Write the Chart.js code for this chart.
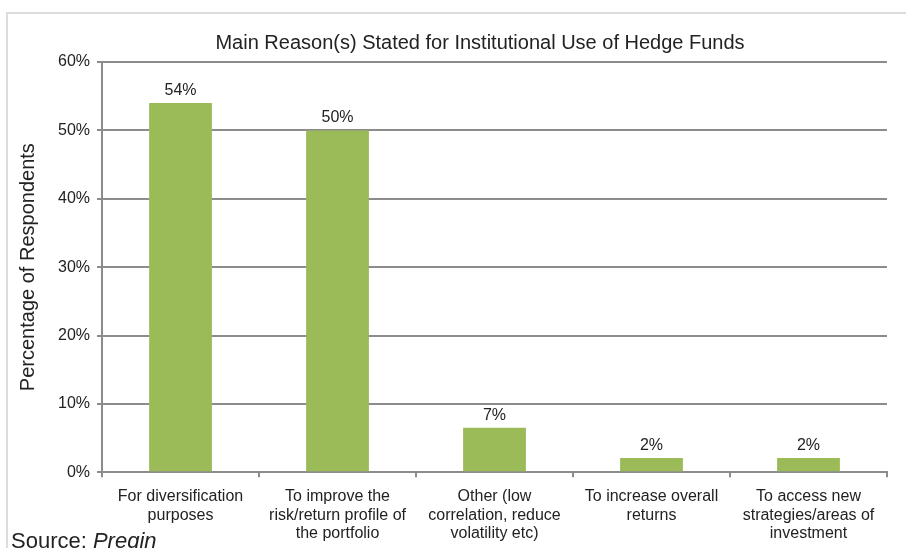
<!DOCTYPE html>
<html>
<head>
<meta charset="utf-8">
<script src="https://cdn.jsdelivr.net/npm/chart.js@4.4.0/dist/chart.umd.min.js"></script>
<style>
  html, body { margin: 0; padding: 0; background: #fff; overflow: hidden; }
  #wrap { position: relative; width: 906px; height: 548px; }
  #frame { position: absolute; left: 6px; top: 12px; width: 920px; height: 560px;
           border-top: 2px solid #dcdcdc; border-left: 2px solid #dcdcdc; }
  #source { position: absolute; left: 11px; top: 528px; line-height: 22px;
            font: 22px "Liberation Sans", Arial, sans-serif; color: #222; white-space: nowrap; }
  canvas { position: absolute; left: 0; top: 0; }
</style>
</head>
<body>
<div id="wrap">
  <div id="frame"></div>
  <canvas id="chart" width="906" height="548"></canvas>
  <div id="source">Source: <i>Preqin</i></div>
</div>
<script>
const chartTitle = 'Main Reason(s) Stated for Institutional Use of Hedge Funds';
const categories = [
    ['For diversification', 'purposes'],
    ['To improve the', 'risk/return profile of', 'the portfolio'],
    ['Other (low', 'correlation, reduce', 'volatility etc)'],
    ['To increase overall', 'returns'],
    ['To access new', 'strategies/areas of', 'investment']
];
const shares = [54, 50, 6.5, 2.1, 2.1];
const yTicks = [0, 10, 20, 30, 40, 50, 60];

const FONT = '"Liberation Sans", Arial, sans-serif';

// value labels above bars + title (it sits a bit left of the plot centre in the original)
const extras = {
    id: 'extras',
    afterDatasetsDraw(chart) {
        const ctx = chart.ctx;
        const meta = chart.getDatasetMeta(0);
        ctx.save();
        ctx.font = '16px ' + FONT;
        ctx.fillStyle = '#222';
        ctx.textAlign = 'center';
        ctx.textBaseline = 'alphabetic';
        meta.data.forEach((bar, i) => {
            ctx.fillText(Math.round(shares[i]) + '%', bar.x, bar.y - 8);
        });
        ctx.font = '20px ' + FONT;
        ctx.textBaseline = 'middle';
        ctx.fillText(chartTitle, 480, 43);
        ctx.restore();
    }
};

new Chart(document.getElementById('chart').getContext('2d'), {
    type: 'bar',
    data: {
        labels: categories,
        datasets: [{
            data: shares,
            backgroundColor: '#9bbb59',
            borderWidth: 0,
            barPercentage: 0.4,
            categoryPercentage: 1.0
        }]
    },
    options: {
        responsive: false,
        animation: false,
        layout: { padding: { left: 16, right: 19, top: 62, bottom: -5 } },
        scales: {
            y: {
                min: 0,
                max: 60,
                afterBuildTicks: axis => { axis.ticks = yTicks.map(v => ({ value: v })); },
                grid: { color: '#8c8c8c', lineWidth: 2, tickLength: 5 },
                border: { color: '#8c8c8c', width: 2 },
                ticks: {
                    color: '#222',
                    font: { size: 16, family: FONT },
                    padding: 7,
                    callback: v => v + '%'
                },
                title: {
                    display: true,
                    text: 'Percentage of Respondents',
                    color: '#222',
                    font: { size: 20, family: FONT },
                    padding: { top: 0, bottom: 11 }
                }
            },
            x: {
                grid: { display: true, drawOnChartArea: false, color: '#8c8c8c', lineWidth: 2, tickLength: 5, offset: true },
                border: { color: '#8c8c8c', width: 2 },
                ticks: {
                    color: '#222',
                    font: { size: 16, family: FONT, lineHeight: 1.16 },
                    padding: 10,
                    maxRotation: 0,
                    autoSkip: false
                }
            }
        },
        plugins: {
            legend: { display: false },
            tooltip: { enabled: false },
            title: { display: false }
        }
    },
    plugins: [extras]
});
</script>
</body>
</html>
